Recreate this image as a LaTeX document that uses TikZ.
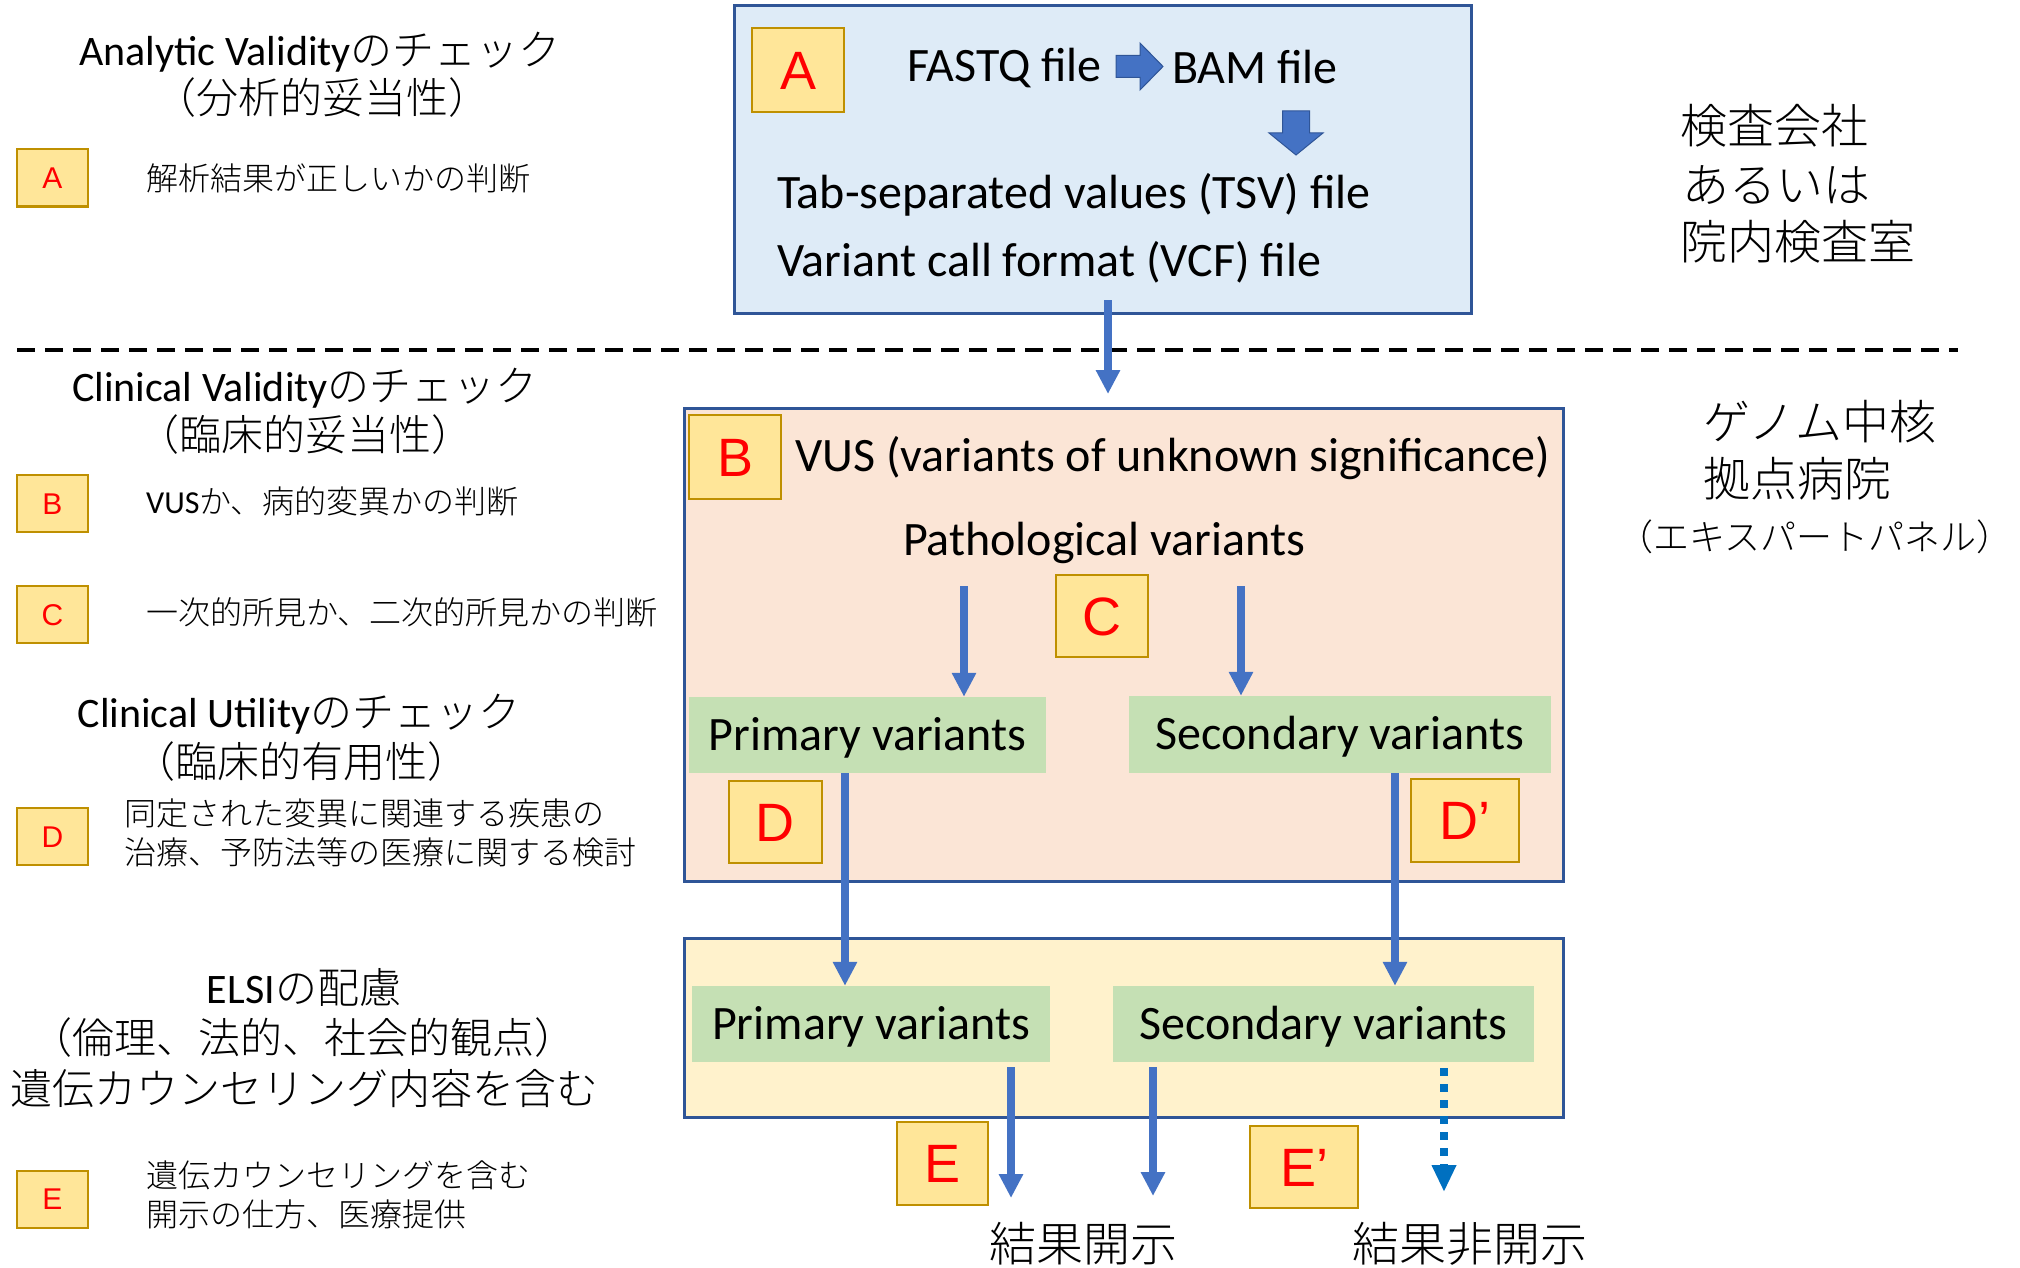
\documentclass[tikz,border=0pt]{standalone}
\usepackage{fontspec}
\setmainfont{Carlito}
\newfontfamily\jp{Noto Sans CJK JP}[UprightFont={* Light}]
\newfontfamily\arl{Liberation Sans}
\usetikzlibrary{arrows.meta}
\newcommand\fsz[1]{\fontsize{#1}{#1}\selectfont}
\definecolor{bluefill}{HTML}{DEEBF7}
\definecolor{boxline}{HTML}{2F5597}
\definecolor{salmon}{HTML}{FBE5D6}
\definecolor{yellowfill}{HTML}{FFF2CC}
\definecolor{greenfill}{HTML}{C5E0B4}
\definecolor{goldfill}{HTML}{FFE699}
\definecolor{goldline}{HTML}{BF9000}
\definecolor{arrowblue}{HTML}{4472C4}
\definecolor{dotblue}{HTML}{0070C0}
\begin{document}
\begin{tikzpicture}[x=1pt,y=-1pt,
  bigbox/.style={draw=boxline, line width=3pt, inner sep=0pt},
  lab/.style={draw=goldline, fill=goldfill, line width=2pt, text=red, font=\arl\fsz{54}, inner sep=0pt, text height=39pt, text depth=0pt},
  slab/.style={draw=goldline, fill=goldfill, line width=2pt, text=red, font=\arl\fsz{30}, inner sep=0pt, text height=21.5pt, text depth=0pt, minimum width=71pt, minimum height=57pt},
  gbox/.style={fill=greenfill, inner sep=0pt, font=\fsz{48}, text height=30.9pt, text depth=0pt},
  arr/.style={draw=arrowblue, line width=7.5pt, -{Triangle[width=23pt,length=24pt]}},
  arrdot/.style={draw=dotblue, line width=8pt, dash pattern=on 8pt off 8pt, -{Triangle[width=23pt,length=27pt]}},
  ttl/.style={font=\fsz{42}, anchor=base, inner sep=0pt},
  jttl/.style={font=\jp\fsz{42}, anchor=base, inner sep=0pt},
  dsc/.style={font=\jp\fsz{32}, anchor=base west, inner sep=0pt},
  rt/.style={font=\jp\fsz{47}, anchor=base west, inner sep=0pt},
  ft/.style={font=\fsz{48}, anchor=base west, inner sep=0pt},
  blockarr/.style={fill=arrowblue, draw=boxline, line width=1pt}
]
\fill[white] (0,0) rectangle (2020,1268);
\useasboundingbox (0,0) rectangle (2020,1268);

% ---------- left column ----------
\node[ttl] (t1) at (320,66) {Analytic Validity{\jp のチェック}};
\node[jttl] (t1b) at (322,114) {（分析的妥当性）};
\node[slab] (sa) at (52.5,178) {A};
\node[dsc] (da) at (146,190) {解析結果が正しいかの判断};

\node[ttl] (t2) at (305,401) {Clinical Validity{\jp のチェック}};
\node[jttl] (t2b) at (305,450) {（臨床的妥当性）};
\node[slab] (sb) at (52.5,503.5) {B};
\node[dsc] (db) at (146,513) {{\rmfamily VUS}か、病的変異かの判断};
\node[slab] (sc) at (52.5,614.5) {C};
\node[dsc] (dc) at (146,624) {一次的所見か、二次的所見かの判断};

\node[ttl] (t3) at (299,727) {Clinical Utility{\jp のチェック}};
\node[jttl] (t3b) at (301,777) {（臨床的有用性）};
\node[slab] (sd) at (52.5,836.5) {D};
\node[dsc] (dd1) at (124,825) {同定された変異に関連する疾患の};
\node[dsc] (dd2) at (124,864) {治療、予防法等の医療に関する検討};

\node[ttl] (t4) at (304,1003) {ELSI{\jp の配慮}};
\node[jttl] (t4b) at (303,1053) {（倫理、法的、社会的観点）};
\node[jttl] (t4c) at (304,1104) {遺伝カウンセリング内容を含む};
\node[slab] (se) at (52.5,1199) {E};
\node[dsc] (de1) at (146,1187) {遺伝カウンセリングを含む};
\node[dsc] (de2) at (146,1226) {開示の仕方、医療提供};

% ---------- dashed separator ----------
\coordinate (dl) at (17,350);
\coordinate (dr) at (1958,350);
\draw[line width=4pt, dash pattern=on 18pt off 10pt] (dl) -- (dr);

% ---------- right column ----------
\node[rt] (r1) at (1680,144) {検査会社};
\node[rt] (r2) at (1682,203) {あるいは};
\node[rt] (r3) at (1680,259) {院内検査室};
\node[rt] (r4) at (1703,439) {ゲノム中核};
\node[rt] (r5) at (1703,496) {拠点病院};
\node[font=\jp\fsz{36}, anchor=base west, inner sep=0pt] (r6) at (1617,550) {（エキスパートパネル）};

% ---------- box A ----------
\node[bigbox, fill=bluefill, minimum width=737pt, minimum height=307pt] (boxA) at (1102.5,159.5) {};
\node[lab, minimum width=92pt, minimum height=84pt] (la) at (798,70) {A};
\node[ft] (fastq) at (907,82) {FASTQ file};
\node[ft] (bam) at (1172,84) {BAM file};
\node[ft] (tsv) at (777,208) {Tab-separated values (TSV) file};
\node[ft] (vcf) at (777,276) {Variant call format (VCF) file};
\fill[blockarr] (1116,55.5) -- (1140,55.5) -- (1140,43) -- (1163,66.5) -- (1140,90) -- (1140,77.5) -- (1116,77.5) -- cycle;
\fill[blockarr] (1282.5,111) -- (1309.5,111) -- (1309.5,133) -- (1323,133) -- (1296,155) -- (1269,133) -- (1282.5,133) -- cycle;

% ---------- box B ----------
\node[bigbox, fill=salmon, minimum width=879pt, minimum height=473pt] (boxB) at (1123.5,644.5) {};
\node[lab, minimum width=92pt, minimum height=84pt] (lb) at (735,457) {B};
\node[ft] (vus) at (795,471) {VUS (variants of unknown significance)};
\node[font=\fsz{48}, anchor=base, inner sep=0pt] (path) at (1104,555) {Pathological variants};
\node[lab, minimum width=92pt, minimum height=82pt] (lc) at (1102,616) {C};
\node[gbox, minimum width=357pt, minimum height=76pt] (p1) at (867.5,735) {Primary variants};
\node[gbox, minimum width=422pt, minimum height=77pt] (s1) at (1340,734.5) {Secondary variants};
\node[lab, minimum width=93pt, minimum height=82pt] (ld) at (775,822) {D};
\node[lab, minimum width=108pt, minimum height=83pt] (ldp) at (1465,820) {D’};

% ---------- box yellow ----------
\node[bigbox, fill=yellowfill, minimum width=879pt, minimum height=179pt] (boxY) at (1123.5,1027.5) {};
\node[gbox, minimum width=358pt, minimum height=76pt] (p2) at (871,1024) {Primary variants};
\node[gbox, minimum width=421pt, minimum height=76pt] (s2) at (1323.5,1024) {Secondary variants};
\node[lab, minimum width=91pt, minimum height=83pt] (le) at (942,1163) {E};
\node[lab, minimum width=108pt, minimum height=82pt] (lep) at (1304,1167) {E’};
\node[font=\jp\fsz{47}, anchor=base, inner sep=0pt] (open) at (1083,1261) {結果開示};
\node[font=\jp\fsz{47}, anchor=base, inner sep=0pt] (noopen) at (1470,1261) {結果非開示};

% ---------- connectors ----------
\coordinate (a1s) at (1108,300);
\coordinate (a1e) at (1108,394);
\draw[arr] (a1s) -- (a1e);
\coordinate (c1) at (964,586);
\coordinate (c2) at (1241,586);
\draw[arr] (c1) -- (c1 |- p1.north);
\draw[arr] (c2) -- (c2 |- s1.north);
\coordinate (xp) at (845,0);
\coordinate (xs) at (1395,0);
\draw[arr] (p1.south -| xp) -- (p2.north -| xp);
\draw[arr] (s1.south -| xs) -- (s2.north -| xs);
\coordinate (e1) at (1011,1198);
\coordinate (e2) at (1153,1196);
\coordinate (e3) at (1444,1192);
\draw[arr] ([yshift=-5pt]p2.south -| e1) -- (e1);
\draw[arr] ([yshift=-5pt]s2.south -| e2) -- (e2);
\draw[arrdot] ([yshift=-6pt]s2.south -| e3) -- (e3);
\end{tikzpicture}
\end{document}
